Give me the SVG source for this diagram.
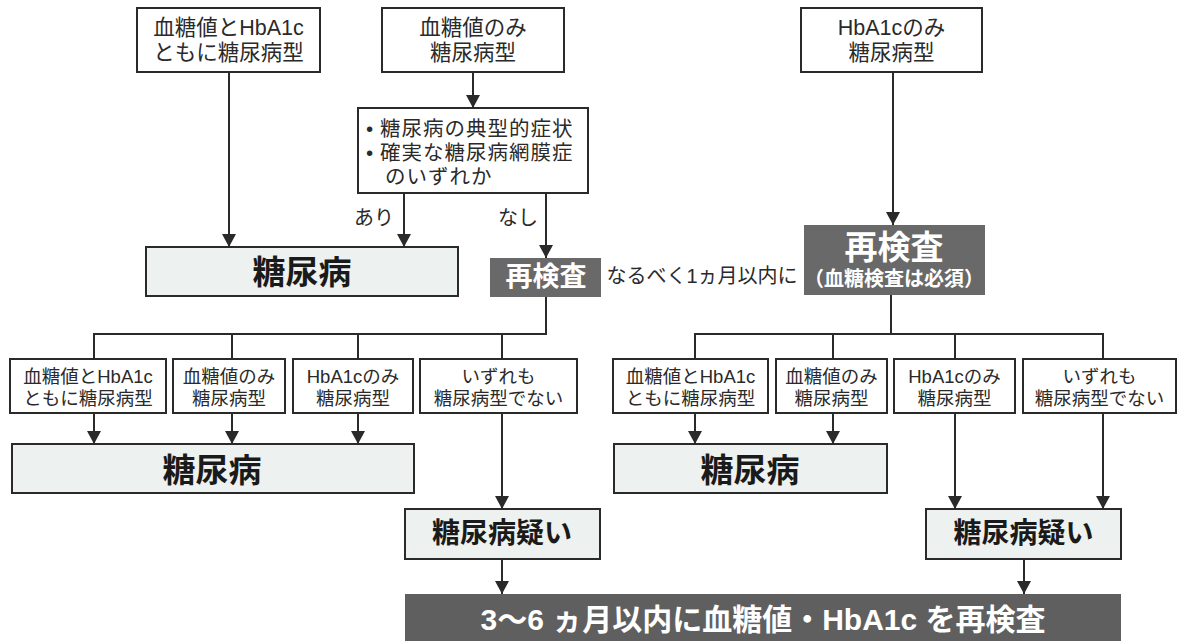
<svg xmlns="http://www.w3.org/2000/svg" width="1177" height="643" viewBox="0 0 1177 643">
<defs>
<style>
.bx{fill:#ffffff;stroke:#2a2a2a;stroke-width:2}
.lt{fill:#edf1ef;stroke:#2a2a2a;stroke-width:2}
.dk{fill:#696969;stroke:none}
.dk2{fill:#5f5f5f;stroke:none}
.t{font-family:"Liberation Sans","Noto Sans CJK JP",sans-serif;fill:#2a2a2a;text-anchor:middle;dominant-baseline:central}
.tl{font-family:"Liberation Sans","Noto Sans CJK JP",sans-serif;fill:#2a2a2a;dominant-baseline:central}
.big{font-family:"Liberation Sans","Noto Sans CJK JP",sans-serif;font-weight:bold;fill:#1a1a1a;text-anchor:middle;dominant-baseline:central}
.wh{font-family:"Liberation Sans","Noto Sans CJK JP",sans-serif;font-weight:bold;fill:#ffffff;text-anchor:middle;dominant-baseline:central}
.ln{fill:none;stroke:#2a2a2a;stroke-width:2}
.ar{fill:none;stroke:#2a2a2a;stroke-width:2;marker-end:url(#ah)}
</style>
<marker id="ah" markerWidth="14" markerHeight="14" refX="13" refY="7" orient="auto" markerUnits="userSpaceOnUse">
<path d="M0,0 L13,7 L0,14 z" fill="#2a2a2a"/>
</marker>
</defs>
<rect width="1177" height="643" fill="#ffffff"/>

<g id="connectors">
<line class="ar" x1="229" y1="72" x2="229" y2="247"/>
<line class="ar" x1="473" y1="72" x2="473" y2="108"/>
<line class="ar" x1="404" y1="193" x2="404" y2="247"/>
<line class="ar" x1="546" y1="193" x2="546" y2="258"/>
<line class="ar" x1="893" y1="72" x2="893" y2="225"/>
<polyline class="ln" points="546,297 546,334 94,334 94,359"/>
<line class="ln" x1="232" y1="334" x2="232" y2="359"/>
<line class="ln" x1="358" y1="334" x2="358" y2="359"/>
<line class="ln" x1="502" y1="334" x2="502" y2="359"/>
<polyline class="ln" points="891,295 891,334 695,334 695,359"/>
<polyline class="ln" points="891,334 1103,334 1103,359"/>
<line class="ln" x1="833" y1="334" x2="833" y2="359"/>
<line class="ln" x1="955" y1="334" x2="955" y2="359"/>
<line class="ar" x1="94" y1="413" x2="94" y2="444"/>
<line class="ar" x1="232" y1="413" x2="232" y2="444"/>
<line class="ar" x1="358" y1="413" x2="358" y2="444"/>
<line class="ar" x1="502" y1="413" x2="502" y2="509"/>
<line class="ar" x1="695" y1="413" x2="695" y2="444"/>
<line class="ar" x1="833" y1="413" x2="833" y2="444"/>
<line class="ar" x1="955" y1="413" x2="955" y2="509"/>
<line class="ar" x1="1103" y1="413" x2="1103" y2="509"/>
<line class="ar" x1="502" y1="559" x2="502" y2="594"/>
<line class="ar" x1="1024" y1="559" x2="1024" y2="594"/>
<text class="t" x="374" y="218" font-size="20">あり</text>
<text class="t" x="518" y="218" font-size="20">なし</text>
<text class="t" x="702" y="276" font-size="20">なるべく1ヵ月以内に</text>
</g>

<g id="top-both">
<rect class="bx" x="137" y="8" width="183" height="64"/>
<text class="t" font-size="21.5"><tspan x="228.5" y="28">血糖値とHbA1c</tspan><tspan x="228.5" y="53">ともに糖尿病型</tspan></text>
</g>
<g id="top-glucose">
<rect class="bx" x="382" y="8" width="182" height="64"/>
<text class="t" font-size="21.5"><tspan x="473" y="28">血糖値のみ</tspan><tspan x="473" y="53">糖尿病型</tspan></text>
</g>
<g id="top-hba1c">
<rect class="bx" x="801" y="8" width="181" height="64"/>
<text class="t" font-size="21.5"><tspan x="891.5" y="28">HbA1cのみ</tspan><tspan x="891.5" y="53">糖尿病型</tspan></text>
</g>
<g id="symptoms">
<rect class="bx" x="358" y="108" width="230" height="85"/>
<text class="tl" font-size="20.5" letter-spacing="1"><tspan x="366" y="128">•</tspan><tspan x="380" y="128">糖尿病の典型的症状</tspan><tspan x="366" y="152">•</tspan><tspan x="380" y="152">確実な糖尿病網膜症</tspan><tspan x="385" y="176">のいずれか</tspan></text>
</g>
<g id="dm-top">
<rect class="lt" x="146" y="247" width="312" height="49"/>
<text class="big" x="302" y="272" font-size="33">糖尿病</text>
</g>
<g id="retest-left">
<rect class="dk" x="490" y="258" width="111" height="39"/>
<text class="wh" x="546" y="277" font-size="27">再検査</text>
</g>
<g id="retest-right">
<rect class="dk" x="804" y="225" width="181" height="70"/>
<text class="wh" font-size="33"><tspan x="894" y="247">再検査</tspan><tspan x="894" y="279" font-size="20">（血糖検査は必須）</tspan></text>
</g>

<g id="l-both">
<rect class="bx" x="10" y="359" width="156" height="54"/>
<text class="t" font-size="18.5"><tspan x="88" y="376">血糖値とHbA1c</tspan><tspan x="88" y="398">ともに糖尿病型</tspan></text>
</g>
<g id="l-glucose">
<rect class="bx" x="173" y="359" width="112" height="54"/>
<text class="t" font-size="18.5"><tspan x="229" y="376">血糖値のみ</tspan><tspan x="229" y="398">糖尿病型</tspan></text>
</g>
<g id="l-hba1c">
<rect class="bx" x="293" y="359" width="120" height="54"/>
<text class="t" font-size="18.5"><tspan x="353" y="376">HbA1cのみ</tspan><tspan x="353" y="398">糖尿病型</tspan></text>
</g>
<g id="l-none">
<rect class="bx" x="420" y="359" width="157" height="54"/>
<text class="t" font-size="18.5"><tspan x="498.5" y="376">いずれも</tspan><tspan x="498.5" y="398">糖尿病型でない</tspan></text>
</g>
<g id="r-both">
<rect class="bx" x="613" y="359" width="155" height="54"/>
<text class="t" font-size="18.5"><tspan x="690.5" y="376">血糖値とHbA1c</tspan><tspan x="690.5" y="398">ともに糖尿病型</tspan></text>
</g>
<g id="r-glucose">
<rect class="bx" x="776" y="359" width="111" height="54"/>
<text class="t" font-size="18.5"><tspan x="831.5" y="376">血糖値のみ</tspan><tspan x="831.5" y="398">糖尿病型</tspan></text>
</g>
<g id="r-hba1c">
<rect class="bx" x="894" y="359" width="121" height="54"/>
<text class="t" font-size="18.5"><tspan x="954.5" y="376">HbA1cのみ</tspan><tspan x="954.5" y="398">糖尿病型</tspan></text>
</g>
<g id="r-none">
<rect class="bx" x="1023" y="359" width="153" height="54"/>
<text class="t" font-size="18.5"><tspan x="1099.5" y="376">いずれも</tspan><tspan x="1099.5" y="398">糖尿病型でない</tspan></text>
</g>

<g id="dm-left">
<rect class="lt" x="12" y="444" width="402" height="49"/>
<text class="big" x="212" y="470" font-size="33">糖尿病</text>
</g>
<g id="dm-right">
<rect class="lt" x="614" y="444" width="273" height="49"/>
<text class="big" x="750" y="470" font-size="33">糖尿病</text>
</g>
<g id="suspect-left">
<rect class="lt" x="405" y="509" width="195" height="50"/>
<text class="big" x="502" y="533" font-size="28">糖尿病疑い</text>
</g>
<g id="suspect-right">
<rect class="lt" x="926" y="509" width="195" height="50"/>
<text class="big" x="1023.5" y="533" font-size="28">糖尿病疑い</text>
</g>
<g id="recheck">
<rect class="dk2" x="405" y="594" width="716" height="47"/>
<text class="wh" x="763" y="619" font-size="30">3〜6 ヵ月以内に血糖値・HbA1c を再検査</text>
</g>
</svg>
